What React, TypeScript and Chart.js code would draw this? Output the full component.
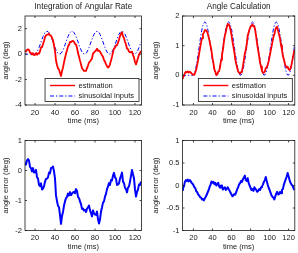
import React, { useEffect, useRef } from "react";
import { Chart, registerables } from "chart.js";

Chart.register(...registerables);

// Sample times (ms)
const timeMs = [
  8, 9, 10, 11, 12, 13, 14, 15, 16, 17,
  18, 19, 20, 21, 22, 23, 24, 25, 26, 27,
  28, 29, 30, 31, 32, 33, 34, 35, 36, 37,
  38, 39, 40, 41, 42, 43, 44, 45, 46, 47,
  48, 49, 50, 51, 52, 53, 54, 55, 56, 57,
  58, 59, 60, 61, 62, 63, 64, 65, 66, 67,
  68, 69, 70, 71, 72, 73, 74, 75, 76, 77,
  78, 79, 80, 81, 82, 83, 84, 85, 86, 87,
  88, 89, 90, 91, 92, 93, 94, 95, 96, 97,
  98, 99, 100, 101, 102, 103, 104, 105, 106, 107,
  108, 109, 110, 111, 112, 113, 114, 115, 116, 117,
  118, 119, 120, 121, 122, 123, 124, 125, 126,
];

// Reference angle (deg)
const sinusoidalInputs = [
  0, 0, 0, 0, 0, 0, 0, 0, 0, 0,
  0, 0, 0.01, 0.06, 0.17, 0.33, 0.52, 0.73, 0.96, 1.18,
  1.38, 1.56, 1.69, 1.77, 1.8, 1.77, 1.69, 1.56, 1.38, 1.18,
  0.96, 0.73, 0.52, 0.33, 0.17, 0.06, 0.01, 0.01, 0.06, 0.17,
  0.33, 0.52, 0.73, 0.96, 1.18, 1.38, 1.56, 1.69, 1.77, 1.8,
  1.77, 1.69, 1.56, 1.38, 1.18, 0.96, 0.73, 0.52, 0.33, 0.17,
  0.06, 0.01, 0.01, 0.06, 0.17, 0.33, 0.52, 0.73, 0.96, 1.18,
  1.38, 1.56, 1.69, 1.77, 1.8, 1.77, 1.69, 1.56, 1.38, 1.18,
  0.96, 0.73, 0.52, 0.33, 0.17, 0.06, 0.01, 0.01, 0.06, 0.17,
  0.33, 0.52, 0.73, 0.96, 1.18, 1.38, 1.56, 1.69, 1.77, 1.8,
  1.77, 1.69, 1.56, 1.38, 1.18, 0.96, 0.73, 0.52, 0.33, 0.17,
  0.06, 0.01, 0.01, 0.06, 0.17, 0.33, 0.52, 0.73, 0.96,
];

// Angle from integrating the angular rate (deg)
const integrationEstimate = [
  0.1, 0.15, 0.24, 0.2, 0.34, 0.38, 0.33, 0.12, 0.08, -0.03,
  0.08, -0.07, -0.05, 0.08, -0.05, 0.06, 0.04, 0.21, 0.53, 0.55,
  0.78, 1.03, 1.32, 1.49, 1.53, 1.54, 1.62, 1.47, 1.46, 1.28,
  1.09, 0.7, 0.25, -0.5, -0.85, -1.12, -1.21, -1.48, -1.72, -1.35,
  -1.05, -0.65, -0.3, 0.04, 0.3, 0.61, 0.73, 0.97, 0.95, 1.03,
  1.04, 0.98, 0.8, 0.76, 0.5, 0.08, -0.19, -0.51, -0.79, -1.11,
  -1.21, -1.32, -1.31, -1.32, -1.1, -0.9, -0.65, -0.59, -0.46, -0.35,
  0.05, 0.13, 0.22, 0.29, 0.43, 0.25, 0.28, 0.2, 0.05, -0.08,
  -0.2, -0.45, -0.6, -0.78, -0.95, -1.05, -0.98, -0.8, -0.5, -0.2,
  0.15, 0.45, 0.5, 0.69, 0.7, 0.91, 1.13, 1.42, 1.59, 1.73,
  1.4, 1.27, 0.98, 0.76, 0.45, 0.39, 0.2, 0.15, 0.15, 0.19,
  -0.07, -0.26, -0.62, -0.81, -0.55, -0.3, -0.05, 0.1, 0.25,
];

// Error of the integrated angle (deg)
const integrationError = [
  0.1, 0.15, 0.24, 0.2, 0.34, 0.38, 0.33, 0.12, 0.08, -0.03,
  0.08, -0.07, -0.06, 0.02, -0.22, -0.27, -0.48, -0.52, -0.43, -0.63,
  -0.6, -0.53, -0.37, -0.28, -0.27, -0.23, -0.07, -0.09, 0.08, 0.1,
  0.13, -0.03, -0.27, -0.83, -1.02, -1.18, -1.22, -1.49, -1.78, -1.52,
  -1.38, -1.17, -1.03, -0.92, -0.88, -0.77, -0.83, -0.72, -0.82, -0.77,
  -0.73, -0.71, -0.76, -0.62, -0.68, -0.88, -0.92, -1.03, -1.12, -1.28,
  -1.27, -1.33, -1.32, -1.38, -1.27, -1.23, -1.17, -1.32, -1.42, -1.53,
  -1.33, -1.43, -1.47, -1.48, -1.37, -1.62, -1.77, -1.63, -1.37, -1.23,
  -1.07, -1.03, -0.87, -0.78, -0.62, -0.53, -0.42, -0.48, -0.32, -0.33,
  -0.17, -0.08, -0.23, -0.27, -0.48, -0.47, -0.43, -0.27, -0.18, -0.07,
  -0.37, -0.42, -0.58, -0.62, -0.73, -0.57, -0.53, -0.37, -0.18, 0.02,
  -0.13, -0.27, -0.63, -0.87, -0.72, -0.63, -0.47, -0.48, -0.37,
];

// Angle from the direct calculation (deg)
const calculationEstimate = [
  -0.1, -0.06, -0.02, 0.08, 0.12, 0.1, 0.13, 0.09, 0.12, 0.1,
  0.06, 0.04, 0.02, 0.02, 0.11, 0.2, 0.37, 0.53, 0.74, 0.92,
  1.11, 1.25, 1.39, 1.44, 1.52, 1.52, 1.49, 1.41, 1.28, 1.15,
  0.98, 0.82, 0.58, 0.41, 0.2, 0.12, 0.01, 0.03, 0.12, 0.15,
  0.28, 0.52, 0.69, 0.87, 1.13, 1.34, 1.46, 1.62, 1.73, 1.72,
  1.65, 1.53, 1.36, 1.14, 0.96, 0.77, 0.53, 0.38, 0.25, 0.13,
  0.09, 0.06, 0.11, 0.14, 0.31, 0.51, 0.74, 0.85, 1.06, 1.34,
  1.44, 1.56, 1.64, 1.67, 1.72, 1.65, 1.65, 1.49, 1.28, 1.04,
  0.84, 0.65, 0.42, 0.29, 0.15, 0.08, 0.09, 0.13, 0.25, 0.27,
  0.35, 0.47, 0.63, 0.8, 0.96, 1.13, 1.29, 1.38, 1.53, 1.62,
  1.63, 1.49, 1.37, 1.24, 1.01, 0.86, 0.65, 0.54, 0.41, 0.31,
  0.26, 0.29, 0.21, 0.18, 0.23, 0.35, 0.52, 0.68, 0.86,
];

// Error of the calculated angle (deg)
const calculationError = [
  -0.1, -0.06, -0.02, 0.08, 0.12, 0.1, 0.13, 0.09, 0.12, 0.1,
  0.06, 0.04, 0.01, -0.04, -0.06, -0.13, -0.15, -0.2, -0.22, -0.26,
  -0.27, -0.31, -0.3, -0.33, -0.28, -0.25, -0.2, -0.15, -0.1, -0.03,
  0.02, 0.09, 0.06, 0.08, 0.03, 0.06, 0.0, 0.02, 0.06, -0.02,
  -0.05, 0.0, -0.04, -0.09, -0.05, -0.04, -0.1, -0.07, -0.04, -0.08,
  -0.12, -0.16, -0.2, -0.24, -0.22, -0.19, -0.2, -0.14, -0.08, -0.04,
  0.03, 0.05, 0.1, 0.08, 0.14, 0.18, 0.22, 0.12, 0.1, 0.16,
  0.06, 0.0, -0.05, -0.1, -0.08, -0.12, -0.04, -0.07, -0.1, -0.14,
  -0.12, -0.08, -0.1, -0.04, -0.02, 0.02, 0.08, 0.12, 0.19, 0.1,
  0.02, -0.05, -0.1, -0.16, -0.22, -0.25, -0.27, -0.31, -0.24, -0.18,
  -0.14, -0.2, -0.19, -0.14, -0.17, -0.1, -0.08, 0.02, 0.08, 0.14,
  0.2, 0.28, 0.2, 0.12, 0.06, 0.02, 0.0, -0.05, -0.1,
];

const timeTicks = [20, 40, 60, 80, 100, 120];
const integrationAngleTicks = [-4, -2, 0, 2];
const calculationAngleTicks = [-1, 0, 1, 2];
const integrationErrorTicks = [-2, -1, 0, 1];
const calculationErrorTicks = [-1, -0.5, 0, 0.5, 1];

const FONT = "'Liberation Sans', Arial, Helvetica, sans-serif";
const INK = "#1a1a1a";

type Series = {
  label: string;
  values: number[];
  color: string;
  width: number;
  dash?: number[];
};

type PanelSpec = {
  left: number;
  top: number;
  w: number;
  h: number;
  area: { left: number; top: number; right: number; bottom: number };
  title?: string;
  yLabel: string;
  yMin: number;
  yMax: number;
  yTicks: number[];
  xMin: number;
  xMax: number;
  series: Series[];
  legend: boolean;
};

// Box, inward tick marks, title and in-axes legend, MATLAB style
const axesDecor = {
  id: "axesDecor",
  afterDatasetsDraw(chart: any, _args: any, opts: any) {
    const { ctx, chartArea: a } = chart;
    const xs = chart.scales.x;
    const ys = chart.scales.y;
    ctx.save();

    if (opts.legend) {
      const ds = chart.data.datasets;
      ctx.font = `7.5px ${FONT}`;
      const textW = Math.max(...ds.map((d: any) => ctx.measureText(d.label).width));
      const boxW = 5 + 25 + 3.5 + textW + 5;
      const boxH = 23;
      const bx = a.right - 2.5 - boxW;
      const by = a.bottom - 3.5 - boxH;
      ctx.fillStyle = "#ffffff";
      ctx.fillRect(bx, by, boxW, boxH);
      ctx.strokeStyle = INK;
      ctx.lineWidth = 0.8;
      ctx.strokeRect(bx, by, boxW, boxH);
      ds.forEach((d: any, i: number) => {
        const cy = by + 7 + i * 10.5;
        ctx.strokeStyle = d.borderColor;
        ctx.lineWidth = Math.min(d.borderWidth, 1.4);
        ctx.setLineDash(d.borderDash || []);
        ctx.beginPath();
        ctx.moveTo(bx + 5, cy);
        ctx.lineTo(bx + 30, cy);
        ctx.stroke();
        ctx.setLineDash([]);
        ctx.fillStyle = INK;
        ctx.textAlign = "left";
        ctx.textBaseline = "middle";
        ctx.fillText(d.label, bx + 33.5, cy);
      });
    }

    ctx.strokeStyle = INK;
    ctx.lineWidth = 0.8;
    ctx.setLineDash([]);
    ctx.strokeRect(a.left, a.top, a.right - a.left, a.bottom - a.top);
    const tl = 2;
    ctx.beginPath();
    for (const t of xs.ticks) {
      const px = xs.getPixelForValue(t.value);
      ctx.moveTo(px, a.bottom);
      ctx.lineTo(px, a.bottom - tl);
      ctx.moveTo(px, a.top);
      ctx.lineTo(px, a.top + tl);
    }
    for (const t of ys.ticks) {
      const py = ys.getPixelForValue(t.value);
      ctx.moveTo(a.left, py);
      ctx.lineTo(a.left + tl, py);
      ctx.moveTo(a.right, py);
      ctx.lineTo(a.right - tl, py);
    }
    ctx.stroke();

    if (opts.title) {
      ctx.font = `8.2px ${FONT}`;
      ctx.fillStyle = INK;
      ctx.textAlign = "center";
      ctx.textBaseline = "middle";
      ctx.fillText(opts.title, (a.left + a.right) / 2, 6.5);
    }
    ctx.restore();
  },
};

function buildConfig(spec: PanelSpec): any {
  const tickFont = { family: FONT, size: 7.5 };
  return {
    type: "line",
    data: {
      datasets: spec.series.map((s) => ({
        label: s.label,
        data: timeMs.map((t, i) => ({ x: t, y: s.values[i] })),
        borderColor: s.color,
        borderWidth: s.width,
        borderDash: s.dash || [],
        borderJoinStyle: "round",
        pointRadius: 0,
        tension: 0,
        fill: false,
      })),
    },
    options: {
      responsive: false,
      animation: false,
      devicePixelRatio: 1,
      events: [],
      layout: {
        padding: { left: 0, top: spec.area.top, right: spec.w - spec.area.right, bottom: 0 },
      },
      plugins: {
        legend: { display: false },
        tooltip: { enabled: false },
        title: { display: false },
        axesDecor: { title: spec.title, legend: spec.legend },
      },
      scales: {
        x: {
          type: "linear",
          min: spec.xMin,
          max: spec.xMax,
          grid: { display: false, drawTicks: false },
          border: { display: false },
          afterBuildTicks: (s: any) => {
            s.ticks = timeTicks.map((v) => ({ value: v }));
          },
          afterFit: (s: any) => {
            s.height = spec.h - spec.area.bottom;
          },
          ticks: {
            padding: 3,
            autoSkip: false,
            maxRotation: 0,
            font: tickFont,
            color: INK,
            callback: (v: any) => String(v),
          },
          title: {
            display: true,
            text: "time (ms)",
            font: tickFont,
            color: INK,
            padding: { top: 0, bottom: 2 },
          },
        },
        y: {
          type: "linear",
          min: spec.yMin,
          max: spec.yMax,
          grid: { display: false, drawTicks: false },
          border: { display: false },
          afterBuildTicks: (s: any) => {
            s.ticks = spec.yTicks.map((v) => ({ value: v }));
          },
          afterFit: (s: any) => {
            s.width = spec.area.left;
          },
          ticks: {
            padding: 3,
            autoSkip: false,
            font: tickFont,
            color: INK,
            callback: (v: any) => String(v),
          },
          title: {
            display: true,
            text: spec.yLabel,
            font: tickFont,
            color: INK,
            padding: { top: 1, bottom: 0 },
          },
        },
      },
    },
    plugins: [axesDecor],
  };
}

function Panel({ spec }: { spec: PanelSpec }) {
  const ref = useRef<HTMLCanvasElement>(null);
  useEffect(() => {
    const chart = new Chart(ref.current as HTMLCanvasElement, buildConfig(spec));
    return () => chart.destroy();
  }, []);
  return (
    <canvas
      ref={ref}
      width={spec.w}
      height={spec.h}
      style={{ position: "absolute", left: spec.left, top: spec.top, width: spec.w, height: spec.h }}
    />
  );
}

const RED = "#ff0000";
const BLUE = "#0000ff";
const DASH_DOT = [4, 2, 1.2, 2];

const panels: PanelSpec[] = [
  {
    left: 0, top: 0, w: 150, h: 127,
    area: { left: 25, top: 16, right: 141.5, bottom: 105 },
    title: "Integration of Angular Rate",
    yLabel: "angle (deg)",
    yMin: -4, yMax: 3, yTicks: integrationAngleTicks,
    xMin: 10, xMax: 126.5,
    series: [
      { label: "estimation", values: integrationEstimate, color: RED, width: 1.8 },
      { label: "sinusoidal inputs", values: sinusoidalInputs, color: BLUE, width: 1, dash: DASH_DOT },
    ],
    legend: true,
  },
  {
    left: 150, top: 0, w: 148, h: 127,
    area: { left: 32.5, top: 16, right: 145.8, bottom: 105 },
    title: "Angle Calculation",
    yLabel: "angle (deg)",
    yMin: -1, yMax: 2, yTicks: calculationAngleTicks,
    xMin: 8.5, xMax: 126.5,
    series: [
      { label: "estimation", values: calculationEstimate, color: RED, width: 1.8 },
      { label: "sinusoidal inputs", values: sinusoidalInputs, color: BLUE, width: 1, dash: DASH_DOT },
    ],
    legend: true,
  },
  {
    left: 0, top: 127, w: 150, h: 126,
    area: { left: 25, top: 13.5, right: 141.5, bottom: 103.5 },
    yLabel: "angle error (deg)",
    yMin: -2, yMax: 1, yTicks: integrationErrorTicks,
    xMin: 10, xMax: 126.5,
    series: [{ label: "error", values: integrationError, color: BLUE, width: 2 }],
    legend: false,
  },
  {
    left: 150, top: 127, w: 148, h: 126,
    area: { left: 32.5, top: 13.5, right: 145.8, bottom: 103.5 },
    yLabel: "angle error (deg)",
    yMin: -1, yMax: 1, yTicks: calculationErrorTicks,
    xMin: 8.5, xMax: 126.5,
    series: [{ label: "error", values: calculationError, color: BLUE, width: 2 }],
    legend: false,
  },
];

export default function App() {
  return (
    <div
      style={{
        position: "fixed",
        left: 0,
        top: 0,
        width: 298,
        height: 253,
        background: "#ffffff",
        overflow: "hidden",
      }}
    >
      {panels.map((p, i) => (
        <Panel key={i} spec={p} />
      ))}
    </div>
  );
}
